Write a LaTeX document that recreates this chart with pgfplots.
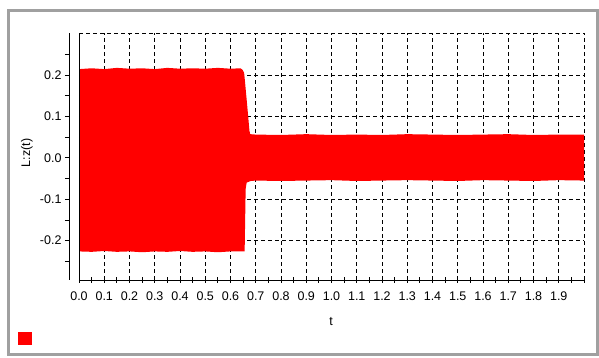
\documentclass[border=0pt]{standalone}
\usepackage{pgfplots}
\pgfplotsset{compat=1.18}
\usepackage{fontspec}
\setmainfont{Liberation Sans}
\definecolor{framegray}{RGB}{160,160,160}
\definecolor{sigred}{RGB}{255,0,0}
\pgfplotsset{
  base/.style={scale only axis, width=505pt, height=246.5pt,
    xmin=0, xmax=2, ymin=-0.295, ymax=0.3, anchor=south west},
  every tick label/.append style={font=\fontsize{12.5}{14}\selectfont},
}
\begin{document}
\begin{tikzpicture}
\useasboundingbox (-79pt,-78pt) rectangle (520pt,280pt);
\draw[line width=3pt, framegray] (-70.5pt,269pt) rectangle (518pt,-75pt);
% data + grid
\begin{axis}[base, at={(0pt,0pt)},
  axis x line=bottom, axis y line=left, axis line style={draw=none},
  xtick={0,0.1,0.2,0.3,0.4,0.5,0.6,0.7,0.8,0.9,1.0,1.1,1.2,1.3,1.4,1.5,1.6,1.7,1.8,1.9,2.0},
  ytick={-0.2,-0.1,0,0.1,0.2,0.3},
  xticklabels={}, yticklabels={}, major tick length=0pt,
  grid=major, major grid style={black, line width=0.8pt, dash pattern=on 4pt off 3pt}]
\addplot[fill=sigred, draw=none] coordinates {
(0,0.214) (0.05,0.216) (0.1,0.214) (0.15,0.217) (0.2,0.215) (0.25,0.216) (0.3,0.214)
(0.35,0.217) (0.4,0.215) (0.45,0.216) (0.5,0.215) (0.55,0.217) (0.6,0.215) (0.64,0.216)
(0.648,0.212) (0.654,0.205) (0.658,0.18) (0.664,0.14) (0.670,0.10) (0.675,0.065) (0.678,0.057)
(0.7,0.056) (0.8,0.055) (0.9,0.057) (1.0,0.055) (1.1,0.056) (1.2,0.055) (1.3,0.057) (1.4,0.056)
(1.5,0.055) (1.6,0.056) (1.7,0.057) (1.8,0.055) (1.9,0.056) (2.0,0.056)
(2.0,-0.055) (1.9,-0.054) (1.8,-0.056) (1.7,-0.055) (1.6,-0.054) (1.5,-0.056) (1.4,-0.055)
(1.3,-0.054) (1.2,-0.055) (1.1,-0.056) (1.0,-0.054) (0.9,-0.055) (0.8,-0.056) (0.7,-0.055)
(0.68,-0.056) (0.664,-0.06) (0.66,-0.075) (0.658,-0.15) (0.656,-0.226)
(0.6,-0.226) (0.55,-0.228) (0.5,-0.226) (0.45,-0.227) (0.4,-0.225) (0.35,-0.227) (0.3,-0.226)
(0.25,-0.228) (0.2,-0.226) (0.15,-0.227) (0.1,-0.225) (0.05,-0.227) (0,-0.226)
} -- cycle;
\end{axis}
% x axis and left border
\begin{axis}[base, at={(0pt,0pt)},
  axis x line=bottom, axis y line=left,
  axis line style={-, black, line width=0.8pt},
  ytick=\empty,
  xtick={0,0.1,0.2,0.3,0.4,0.5,0.6,0.7,0.8,0.9,1.0,1.1,1.2,1.3,1.4,1.5,1.6,1.7,1.8,1.9,2.0},
  xticklabels={0.0,0.1,0.2,0.3,0.4,0.5,0.6,0.7,0.8,0.9,1.0,1.1,1.2,1.3,1.4,1.5,1.6,1.7,1.8,1.9,},
  xticklabel style={yshift=-5pt},
  minor x tick num=1, tick align=center,
  major tick length=6pt, minor tick length=6pt,
  tick style={black, line width=0.8pt}]
\end{axis}
% separate y axis
\begin{axis}[base, at={(-10pt,0pt)},
  axis y line=left, axis x line=none,
  axis line style={-, black, line width=0.8pt},
  xtick=\empty,
  ytick={-0.2,-0.1,0,0.1,0.2},
  yticklabels={-0.2,-0.1,0.0,0.1,0.2},
  minor ytick={-0.25,-0.15,-0.05,0.05,0.15,0.25},
  tick align=outside, major tick length=4pt, minor tick length=4pt,
  tick style={black, line width=0.8pt}]
\end{axis}
\node[rotate=90, font=\fontsize{12.5}{14}\selectfont] at (-52pt,127pt) {L:z(t)};
\node[font=\fontsize{12.5}{14}\selectfont] at (252pt,-42pt) {t};
\fill[sigred] (-61pt,-65pt) rectangle (-47pt,-52pt);
\end{tikzpicture}
\end{document}
